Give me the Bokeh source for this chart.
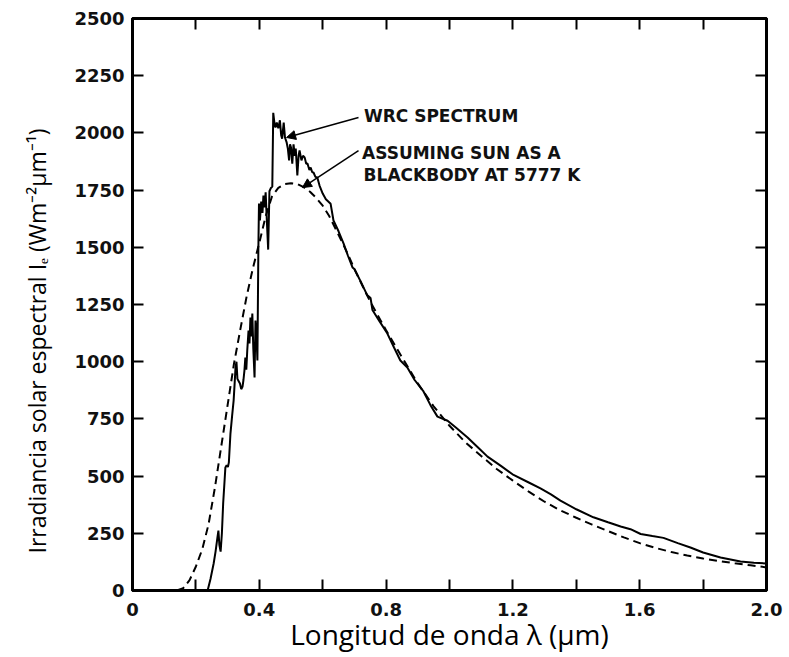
from bokeh.plotting import figure
from bokeh.models import (Range1d, FixedTicker, Label, Arrow, NormalHead, ColumnDataSource,
                          PrintfTickFormatter, Title, LinearAxis, CustomJSTickFormatter)
from bokeh.embed import file_html
from bokeh.resources import INLINE

# ---- data ----
wrc_wavelength = [0.237, 0.246, 0.256, 0.262, 0.268, 0.271, 0.274, 0.278, 0.282, 0.286, 0.290, 0.293,
                  0.297, 0.301, 0.304, 0.309, 0.314, 0.319, 0.322, 0.325, 0.328, 0.331, 0.335, 0.339,
                  0.343, 0.347, 0.350, 0.353, 0.356, 0.359, 0.362, 0.366, 0.369, 0.372, 0.375, 0.378,
                  0.381, 0.385, 0.388, 0.391, 0.394, 0.397, 0.399, 0.402, 0.406, 0.410, 0.413, 0.417,
                  0.420, 0.424, 0.428, 0.432, 0.436, 0.441, 0.444, 0.448, 0.451, 0.455, 0.460, 0.465,
                  0.469, 0.472, 0.477, 0.481, 0.486, 0.490, 0.494, 0.497, 0.500, 0.504, 0.508, 0.512,
                  0.515, 0.520, 0.524, 0.527, 0.533, 0.538, 0.543, 0.548, 0.552, 0.558, 0.562, 0.567,
                  0.571, 0.577, 0.583, 0.590, 0.600, 0.610, 0.625, 0.634, 0.650, 0.666, 0.680, 0.694,
                  0.700, 0.720, 0.740, 0.751, 0.757, 0.780, 0.804, 0.825, 0.845, 0.867, 0.890, 0.918,
                  0.940, 0.962, 0.994, 1.020, 1.057, 1.090, 1.120, 1.161, 1.202, 1.250, 1.287, 1.320,
                  1.350, 1.400, 1.454, 1.500, 1.540, 1.571, 1.603, 1.640, 1.675, 1.720, 1.760, 1.800,
                  1.855, 1.918, 1.960, 2.000]
wrc_irradiance = [0, 50, 118, 170, 232, 262, 200, 170, 250, 380, 470, 538,
                  548, 540, 560, 686, 760, 830, 900, 975, 1000, 925, 915, 905,
                  880, 890, 920, 960, 1018, 965, 1049, 1136, 1080, 1193, 1110, 1210,
                  1060, 931, 1180, 1120, 1005, 1486, 1691, 1617, 1700, 1650, 1726, 1674,
                  1740, 1610, 1490, 1745, 1758, 1765, 2088, 2040, 2024, 2045, 2020, 2055,
                  1990, 1975, 2045, 1980, 1960, 1932, 1880, 1950, 1936, 1866, 1950, 1900,
                  1932, 1814, 1900, 1923, 1880, 1900, 1893, 1865, 1866, 1838, 1849, 1828,
                  1827, 1808, 1805, 1770, 1735, 1710, 1690, 1617, 1570, 1516, 1462, 1412,
                  1405, 1350, 1292, 1278, 1226, 1175, 1123, 1062, 1005, 975, 920, 870,
                  810, 760, 742, 712, 669, 625, 585, 546, 505, 472, 446, 420,
                  393, 355, 320, 298, 280, 268, 247, 238, 230, 207, 188, 166,
                  144, 127, 121, 118]

bb_wavelength = [0.14, 0.16, 0.18, 0.20, 0.22, 0.24, 0.26, 0.28, 0.30, 0.32, 0.34, 0.36, 0.38, 0.40,
                 0.42, 0.44, 0.46, 0.48, 0.50, 0.52, 0.54, 0.56, 0.58, 0.60, 0.62, 0.65, 0.68, 0.70,
                 0.75, 0.80, 0.85, 0.90, 0.95, 1.00, 1.05, 1.10, 1.15, 1.20, 1.25, 1.30, 1.35, 1.40,
                 1.45, 1.50, 1.55, 1.60, 1.65, 1.70, 1.75, 1.80, 1.85, 1.90, 1.95, 2.00]
bb_irradiance = [0, 10, 45, 105, 180, 290, 450, 630, 810, 990, 1140, 1285, 1410, 1520,
                 1635, 1722, 1760, 1776, 1780, 1777, 1763, 1743, 1715, 1682, 1638, 1555, 1468, 1405,
                 1262, 1137, 1020, 905, 805, 720, 648, 588, 530, 480, 432, 388, 350, 318,
                 288, 260, 232, 207, 186, 168, 153, 140, 129, 119, 110, 101]

x_major_ticks = [0, 0.4, 0.8, 1.2, 1.6, 2.0]
x_minor_ticks = [0.2, 0.6, 1.0, 1.4, 1.8]
y_ticks = [0, 250, 500, 750, 1000, 1250, 1500, 1750, 2000, 2250, 2500]

x_label = "Longitud de onda λ (μm)"
y_label = "Irradiancia solar espectral Iₑ (Wm⁻²μm⁻¹)"

note_wrc = "WRC SPECTRUM"
note_bb_1 = "ASSUMING SUN AS A"
note_bb_2 = "BLACKBODY AT 5777 K"
# annotation anchors (data units): text position, arrow tail, arrow head
wrc_note_xy = (0.73, 2072)
wrc_arrow = (0.713, 2067, 0.486, 1980)
bb_note_xy = (0.724, 1912)
bb_note2_xy = (0.729, 1818)
bb_arrow = (0.713, 1923, 0.536, 1761)

X_MIN, X_MAX = 0, 2.0
Y_MIN, Y_MAX = 0, 2500
TICK_PX = 11

# ---- figure ----
p = figure(width=789, height=657, x_range=Range1d(X_MIN, X_MAX), y_range=Range1d(Y_MIN, Y_MAX),
           output_backend="svg", toolbar_location=None,
           min_border_left=132, min_border_right=23, min_border_top=18, min_border_bottom=67)
p.xgrid.visible = False
p.ygrid.visible = False
p.outline_line_color = "black"
p.outline_line_width = 3
p.background_fill_color = "white"
p.border_fill_color = "white"

tick_font = "DejaVu Sans"

def style_ticks(ax):
    ax.axis_line_width = 3
    ax.axis_line_color = "black"
    ax.major_tick_in = TICK_PX
    ax.major_tick_out = 0
    ax.minor_tick_in = TICK_PX
    ax.minor_tick_out = 0
    ax.major_tick_line_width = 2
    ax.minor_tick_line_width = 2
    ax.major_tick_line_color = "black"
    ax.minor_tick_line_color = "black"

for ax in (p.xaxis[0], p.yaxis[0]):
    style_ticks(ax)
    ax.major_label_text_font = tick_font
    ax.major_label_text_font_style = "bold"
    ax.major_label_text_font_size = "18px"
    ax.major_label_text_color = "#111111"
    ax.axis_label_text_font = "Open Sans"
    ax.axis_label_text_font_style = "normal"
    ax.axis_label_text_color = "black"

xa = p.xaxis[0]
xa.ticker = FixedTicker(ticks=x_major_ticks, minor_ticks=x_minor_ticks)
xa.formatter = PrintfTickFormatter(format="%.1f")
xa.major_label_overrides = {0: "0"}
xa.major_label_standoff = 12
xa.axis_label = x_label
xa.axis_label_text_font_size = "28px"
xa.axis_label_standoff = -4

ya = p.yaxis[0]
ya.ticker = FixedTicker(ticks=y_ticks, minor_ticks=[])
ya.major_label_standoff = 8

# inward ticks on the top and right frame edges (no labels there)
blank = CustomJSTickFormatter(code="return ''")
top_axis = LinearAxis(ticker=FixedTicker(ticks=x_major_ticks, minor_ticks=x_minor_ticks),
                      formatter=blank, major_label_standoff=0, major_label_text_font_size="8px")
style_ticks(top_axis)
p.add_layout(top_axis, "above")
right_axis = LinearAxis(ticker=FixedTicker(ticks=y_ticks, minor_ticks=[]),
                        formatter=blank, major_label_standoff=0, major_label_text_font_size="8px")
style_ticks(right_axis)
p.add_layout(right_axis, "right")

# y title on the left, starting lower like the reference
p.add_layout(Title(text=y_label, align="left", offset=37, vertical_align="top",
                   text_font="Open Sans", text_font_size="23px", text_font_style="normal",
                   text_color="black", standoff=34), "left")

# ---- curves ----
bb_src = ColumnDataSource(data=dict(x=bb_wavelength, y=bb_irradiance))
wrc_src = ColumnDataSource(data=dict(x=wrc_wavelength, y=wrc_irradiance))
p.line("x", "y", source=bb_src, line_color="black", line_width=2, line_dash="8 5")
p.line("x", "y", source=wrc_src, line_color="black", line_width=2)

# ---- annotations ----
note_font = "DejaVu Sans"
for txt, (tx, ty) in [(note_wrc, wrc_note_xy), (note_bb_1, bb_note_xy), (note_bb_2, bb_note2_xy)]:
    p.add_layout(Label(x=tx, y=ty, text=txt, text_font=note_font, text_font_style="bold",
                       text_font_size="17px", text_baseline="middle", text_align="left",
                       text_color="#111111"))

for (x0, y0, x1, y1) in [wrc_arrow, bb_arrow]:
    p.add_layout(Arrow(x_start=x0, y_start=y0, x_end=x1, y_end=y1, line_width=1.5, line_color="black",
                       end=NormalHead(size=9, fill_color="black", line_color="black")))

open("out.html", "w").write(file_html(p, INLINE))
